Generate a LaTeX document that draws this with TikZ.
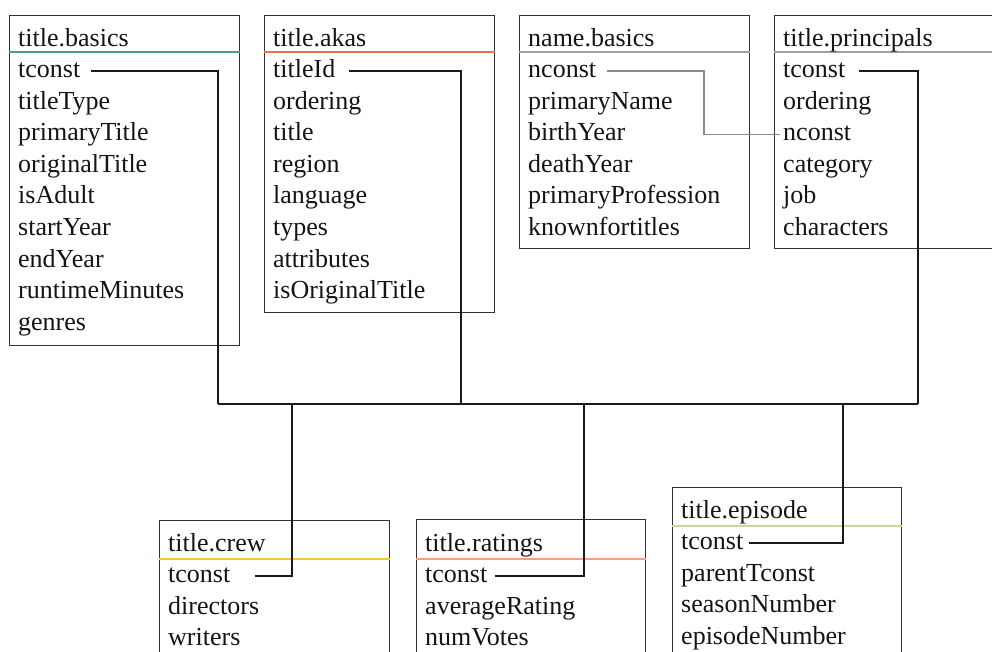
\documentclass[tikz,border=0pt]{standalone}
\usepackage{fontspec}
\setmainfont{Liberation Serif}
\begin{document}
\begin{tikzpicture}[x=1pt,y=-1pt,
  font=\fontsize{26}{31}\selectfont,
  tbl/.style={draw=black!80, line width=1.2pt, anchor=north west, inner sep=0pt},
  fld/.style={anchor=base west, inner sep=0pt, text height=18pt, text depth=5pt, text=black!92},
  link/.style={draw=black!90, line width=1.4pt},
  nlink/.style={draw=black!45, line width=1.1pt},
  sep/.style={line width=1.2pt}]
\useasboundingbox (0,0) rectangle (992,652);
\clip (0,0) rectangle (992,652);
\definecolor{cteal}{HTML}{4A9E84}
\definecolor{corange}{HTML}{E8704A}
\definecolor{cgray}{HTML}{A0A0A0}
\definecolor{cyellow}{HTML}{F0C830}
\definecolor{csalmon}{HTML}{F0A084}
\definecolor{cgreen}{HTML}{C4DC98}

% boxes
\node[tbl, minimum width=230pt, minimum height=330pt] (basics) at (9,15) {};
\node[tbl, minimum width=230pt, minimum height=297pt] (akas) at (264,15) {};
\node[tbl, minimum width=230pt, minimum height=233pt] (names) at (519,15) {};
\node[tbl, minimum width=240pt, minimum height=233pt] (princ) at (774,15) {};
\node[tbl, minimum width=230pt, minimum height=160pt] (crew) at (159,520) {};
\node[tbl, minimum width=229pt, minimum height=160pt] (ratings) at (416,519) {};
\node[tbl, minimum width=229pt, minimum height=190pt] (episode) at (672,487) {};

% header separators
\draw[sep, cteal] (basics.west |- 0,52) -- (basics.east |- 0,52);
\draw[sep, corange] (akas.west |- 0,52) -- (akas.east |- 0,52);
\draw[sep, cgray] (names.west |- 0,52) -- (names.east |- 0,52);
\draw[sep, cgray] (princ.west |- 0,52) -- (princ.east |- 0,52);
\draw[sep, cyellow] (crew.west |- 0,559) -- (crew.east |- 0,559);
\draw[sep, csalmon] (ratings.west |- 0,559) -- (ratings.east |- 0,559);
\draw[sep, cgreen] (episode.west |- 0,526) -- (episode.east |- 0,526);

% headers
\node[fld] (hb) at (18,46.5) {title.basics};
\node[fld] (ha) at (273,46.5) {title.akas};
\node[fld] (hn) at (528,46.5) {name.basics};
\node[fld] (hp) at (783,46.5) {title.principals};
\node[fld] (hc) at (168,551.5) {title.crew};
\node[fld] (hr) at (425,551.5) {title.ratings};
\node[fld] (he) at (681,518.5) {title.episode};

% fields
\foreach \t [count=\i from 0] in {tconst,titleType,primaryTitle,originalTitle,isAdult,startYear,endYear,runtimeMinutes,genres}
  \node[fld] (b\i) at (18,{77.5+31.6*\i}) {\t};
\foreach \t [count=\i from 0] in {titleId,ordering,title,region,language,types,attributes,isOriginalTitle}
  \node[fld] (a\i) at (273,{77.5+31.6*\i}) {\t};
\foreach \t [count=\i from 0] in {nconst,primaryName,birthYear,deathYear,primaryProfession,knownfortitles}
  \node[fld] (n\i) at (528,{77.5+31.6*\i}) {\t};
\foreach \t [count=\i from 0] in {tconst,ordering,nconst,category,job,characters}
  \node[fld] (p\i) at (783,{77.5+31.6*\i}) {\t};
\foreach \t [count=\i from 0] in {tconst,directors,writers}
  \node[fld] (c\i) at (168,{582.5+31.6*\i}) {\t};
\foreach \t [count=\i from 0] in {tconst,averageRating,numVotes}
  \node[fld] (r\i) at (425,{582.5+31.6*\i}) {\t};
\foreach \t [count=\i from 0] in {tconst,parentTconst,seasonNumber,episodeNumber}
  \node[fld] (e\i) at (681,{549.5+31.6*\i}) {\t};

% bus coordinates
\coordinate (busB) at (218,404);
\coordinate (busA) at (461,404);
\coordinate (busP) at (918,404);
\coordinate (busC) at (292,404);
\coordinate (busR) at (584,404);
\coordinate (busE) at (843,404);
\coordinate (nmid) at (704,135);

% connectors
\draw[link] ([xshift=10pt]b0.east) -| (busB);
\draw[link] ([xshift=14pt]a0.east) -| (busA);
\draw[link] ([xshift=13pt]p0.east) -| (busP);
\draw[link] (busB) -- (busP);
\draw[link] ([xshift=24pt]c0.east) -| (busC);
\draw[link] ([xshift=7pt]r0.east) -| (busR);
\draw[link] ([xshift=5pt]e0.east) -| (busE);
\draw[nlink] ([xshift=11pt]n0.east) -| (nmid) |- ([xshift=-3pt]p2.west);
\end{tikzpicture}
\end{document}
